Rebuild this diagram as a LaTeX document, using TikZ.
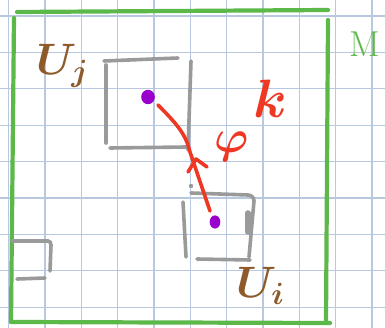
\documentclass[tikz,border=0pt]{standalone}
\usepackage{fix-cm}
\begin{document}
\begin{tikzpicture}[x=1pt,y=-1pt,
  gridline/.style={draw=gridc,line width=1.2pt},
  frame/.style={draw=greenc,line width=4.2pt,line cap=round},
  patch/.style={draw=grayc,line width=3.6pt,line cap=round},
  mapline/.style={draw=redc,line width=3.6pt,line cap=round,line join=round},
  pt/.style={fill=purplec},
  chartlabel/.style={text=brownc,font=\fontsize{44}{44}\selectfont\boldmath,inner sep=0pt},
  maplabel/.style={text=redc,font=\fontsize{46}{46}\selectfont\boldmath,inner sep=0pt},
  mlabel/.style={text=greenc,font=\fontsize{36}{36}\selectfont,inner sep=0pt}]
\definecolor{gridc}{HTML}{B8C8DE}
\definecolor{greenc}{HTML}{5CB848}
\definecolor{grayc}{HTML}{9A9A9A}
\definecolor{purplec}{HTML}{9900CC}
\definecolor{redc}{HTML}{EE3824}
\definecolor{brownc}{HTML}{8E5A2A}
\useasboundingbox (0,0) rectangle (385,328);
\clip (0,0) rectangle (385,328);
\fill[white] (0,0) rectangle (385,328);
% grid
\foreach \i in {0,...,10} \draw[gridline] ({8.7+36.33*\i},0) -- ({8.7+36.33*\i},328);
\foreach \j in {0,...,8} \draw[gridline] (0,{16+36.4*\j}) -- (385,{16+36.4*\j});
% manifold frame
\draw[frame] (17,12) -- (328,10);
\draw[frame] (14,18) -- (11,322);
\draw[frame] (11,322) -- (330,323);
\draw[frame] (328,20) -- (326,322);
\node[mlabel,anchor=base west] (M) at (349,57) {$\mathrm{M}$};
% upper patch U_j
\draw[patch] (104,61) -- (178,58);
\draw[patch] (106,65) -- (106,143);
\draw[patch] (110,148) -- (186,147);
\draw[patch] (191,61) -- (188,150);
\node[chartlabel,anchor=base west] (Uj) at (36,75) {$U_{j}$};
% lower patch U_i
\draw[patch] (191,193) -- (248,195) to[out=0,in=90] (254,201) -- (249,257);
\draw[grayc,line width=5.5pt,line cap=round] (248,213) -- (248,232);
\draw[patch] (183,202) -- (186,257);
\draw[patch] (197,259) -- (250,260);
\fill[grayc] (191,186) circle (2.2);
\node[chartlabel,anchor=base west] (Ui) at (236,298) {$U_{i}$};
% small patch bottom-left
\draw[patch] (12,241) -- (48,241) to[out=0,in=90] (51,245) -- (50,271);
\draw[patch] (17,279) -- (45,278);
% points
\fill[pt] (148,97) ellipse (6.8 and 7.2) coordinate (p);
\fill[pt] (215,222) ellipse (5.3 and 6.6) coordinate (q);
\coordinate (p1) at (158,105);
\coordinate (q1) at (210,211);
% map phi^k
\draw[mapline] (p1) .. controls (178,125) and (186,135) .. (190,152) -- (q1);
\draw[mapline] (188,172) -- (196,159) -- (207,167);
\node[maplabel,anchor=base west] (phi) at (214,153) {$\varphi$\kern5pt\raisebox{35pt}{\fontsize{54}{54}\selectfont$k$}};
\end{tikzpicture}
\end{document}
